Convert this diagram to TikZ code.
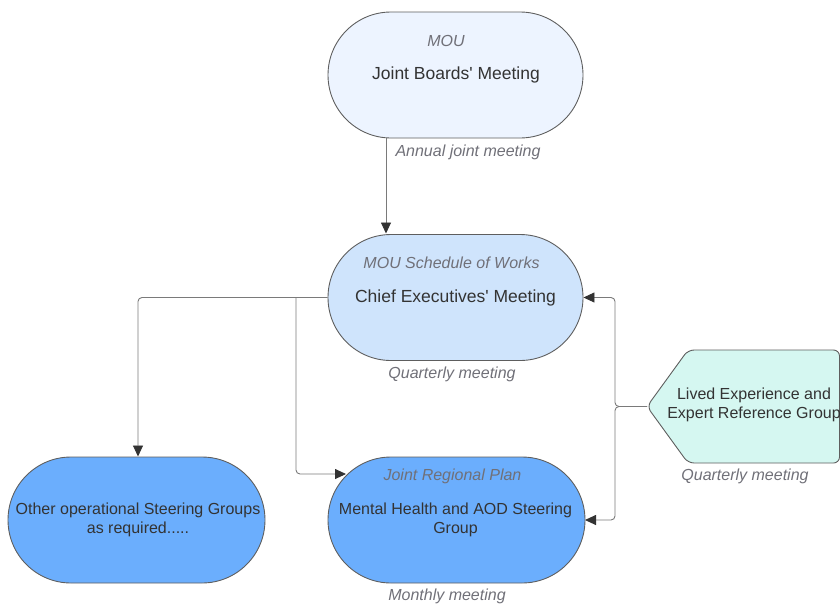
\documentclass[tikz,border=0pt]{standalone}
\usepackage{fontspec}
\setmainfont{Liberation Sans}[Ligatures=TeXOff]
\usetikzlibrary{shapes.misc,arrows.meta}
\definecolor{linegray}{HTML}{5E5E5E}
\definecolor{conngray}{HTML}{7A7A7A}
\definecolor{textdark}{HTML}{333333}
\definecolor{notegray}{HTML}{707078}
\definecolor{topfill}{HTML}{EDF4FF}
\definecolor{midfill}{HTML}{CFE4FC}
\definecolor{lowfill}{HTML}{6BAEFD}
\definecolor{hexfill}{HTML}{D5F7F1}
\begin{document}
\begin{tikzpicture}[x=1pt,y=-1pt]
\useasboundingbox (0,0) rectangle (840,603);
\tikzset{
  stad/.style={rounded rectangle, draw=linegray, line width=0.9pt, minimum width=255pt, minimum height=126pt, inner sep=0pt},
  big/.style={font=\fontsize{17.5}{21}\selectfont, text=textdark, inner sep=0pt},
  body/.style={font=\fontsize{16}{19}\selectfont, text=textdark, align=center, inner sep=0pt},
  note/.style={font=\fontsize{16}{19}\selectfont\itshape, text=notegray, inner sep=0pt},
  conn/.style={draw=conngray, line width=0.9pt, rounded corners=4pt},
  tip/.style={-{Triangle[length=11pt,width=10pt,color=textdark]}}
}
% nodes
\node[stad, fill=topfill] (jbm) at (455.5,75) {};
\node[note] (jbmsub) at (446,41) {MOU};
\node[big] (jbmtxt) at (456,74.5) {Joint Boards' Meeting};
\node[note] (annual) at (468,152) {Annual joint meeting};

\node[stad, fill=midfill] (cem) at (455.5,297.5) {};
\node[note] (cemsub) at (451.5,263) {MOU Schedule of Works};
\node[big] (cemtxt) at (455.5,297.5) {Chief Executives' Meeting};
\node[note] (quart1) at (452,374) {Quarterly meeting};

\node[stad, fill=lowfill, minimum width=257pt] (osg) at (136.5,520) {};
\node[body] (osgtxt) at (138,519.5) {Other operational Steering Groups\\as required.....};

\node[stad, fill=lowfill, minimum width=257pt] (mhs) at (456.5,520) {};
\node[note] (mhssub) at (452.5,476) {Joint Regional Plan};
\node[body] (mhstxt) at (455.5,519.5) {Mental Health and AOD Steering\\Group};
\node[note] (monthly) at (447,596) {Monthly meeting};

% hexagon
\draw[draw=linegray, line width=0.9pt, fill=hexfill, rounded corners=6pt]
  (647,406.5) -- (688,350) -- (839.5,350) -- (839.5,463) -- (688,463) -- cycle;
\coordinate (lx) at (647,406.5);
\node[body] (lxtxt) at (754,405) {Lived Experience and\\Expert Reference Group};
\node[note] (quart2) at (745,476) {Quarterly meeting};

% connectors
\coordinate (j1) at (615,406.5);
\coordinate (b1) at (296,297.5);
\draw[conn, tip] (386,138) -- (386,233.5);
\draw[conn, tip] (cem.west) -- (138,297.5) -- (138,456.5);
\draw[conn, tip] (b1) -- (296,474) -- (346,474);
\draw[conn, tip] (lx) -- (j1) |- (cem.east);
\draw[conn, tip] (lx) -- (j1) |- (585,520);
\end{tikzpicture}
\end{document}
